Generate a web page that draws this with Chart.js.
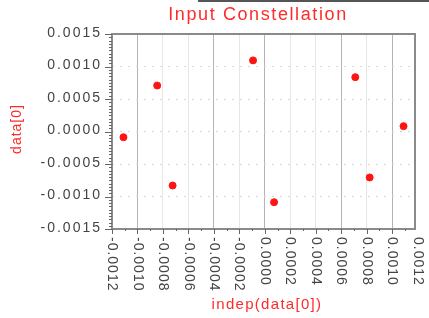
<!DOCTYPE html>
<html>
<head>
<meta charset="utf-8">
<script src="https://cdn.jsdelivr.net/npm/chart.js@4.4.1/dist/chart.umd.min.js"></script>
<style>
  html, body { margin: 0; padding: 0; background: #fff; }
  #wrap { width: 429px; height: 318px; }
</style>
</head>
<body>
<div id="wrap"><canvas id="chart" width="429" height="318"></canvas></div>
<script>
// Constellation points (I = x, Q = y)
const iValues = [-0.00111, -0.000845, -0.000724, -0.000092, 0.000073, 0.000711, 0.000824, 0.00109];
const qValues = [-0.000088, 0.000707, -0.000831, 0.001094, -0.001088, 0.000836, -0.000707, 0.000082];

// Tick labels
const xTicks = [-0.0012, -0.0010, -0.0008, -0.0006, -0.0004, -0.0002, 0.0000, 0.0002, 0.0004, 0.0006, 0.0008, 0.0010, 0.0012];
const yTicks = [0.0015, 0.0010, 0.0005, 0.0000, -0.0005, -0.0010, -0.0015];
// x grid lines that show up darker in the original
const xDarkLines = [-0.0010, -0.0004, 0.0000, 0.0006, 0.0010];

const titleText = 'Input Constellation';
const xTitle = 'indep(data[0])';
const yTitle = 'data[0]';

const RED = '#ff2a2a';
const fmt = v => (Math.abs(v) < 1e-12 ? 0 : v).toFixed(4);
const near = (a, b) => Math.abs(a - b) < 1e-9;

// draws frame, ticks, labels and titles around the plot
const decorations = {
    id: 'decorations',
    afterDraw(chart) {
        const { ctx, chartArea: area, scales } = chart;
        const xs = scales.x, ys = scales.y;
        ctx.save();

        // box line at the top right
        ctx.strokeStyle = '#555';
        ctx.lineWidth = 2;
        ctx.beginPath();
        ctx.moveTo(198, 1);
        ctx.lineTo(429, 1);
        ctx.stroke();

        // plot frame
        ctx.strokeStyle = '#8a8a8a';
        ctx.lineWidth = 2;
        ctx.strokeRect(area.left, area.top, area.right - area.left, area.bottom - area.top);

        // y ticks (minor every 0.00005, major at labels)
        ctx.strokeStyle = '#666';
        ctx.lineWidth = 1;
        for (let k = -30; k <= 30; k++) {
            const v = k * 0.00005;
            const y = Math.round(ys.getPixelForValue(v)) + 0.5;
            const len = k % 10 === 0 ? 7 : 3;
            ctx.beginPath();
            ctx.moveTo(area.left - len, y);
            ctx.lineTo(area.left, y);
            ctx.stroke();
        }
        // x ticks (minor every 0.0001, major at labels)
        for (let k = -12; k <= 12; k++) {
            const v = k * 0.0001;
            const x = Math.round(xs.getPixelForValue(v)) + 0.5;
            if (x > area.right + 1) continue;
            const len = k % 2 === 0 ? 5 : 2;
            ctx.beginPath();
            ctx.moveTo(x, area.bottom);
            ctx.lineTo(x, area.bottom + len);
            ctx.stroke();
        }

        // y tick labels
        ctx.fillStyle = '#444';
        ctx.font = '14px "Liberation Sans", Arial, sans-serif';
        ctx.letterSpacing = '2px';
        ctx.textAlign = 'right';
        ctx.textBaseline = 'middle';
        yTicks.forEach(v => {
            ctx.fillText(fmt(v), 102, ys.getPixelForValue(v) - 1);
        });

        // x tick labels, turned clockwise, reading downwards
        ctx.letterSpacing = '1px';
        ctx.textAlign = 'left';
        xTicks.forEach(v => {
            const x = xs.getPixelForValue(v);
            ctx.save();
            ctx.translate(x, 237);
            ctx.rotate(Math.PI / 2);
            ctx.fillText(fmt(v), 0, 0);
            ctx.restore();
        });

        // titles
        ctx.fillStyle = RED;
        ctx.textAlign = 'center';
        ctx.font = '18px "Liberation Sans", Arial, sans-serif';
        ctx.letterSpacing = '1.6px';
        ctx.fillText(titleText, 258, 15);

        ctx.font = '15px "Liberation Sans", Arial, sans-serif';
        ctx.letterSpacing = '1.3px';
        ctx.fillText(xTitle, 267, 305);

        ctx.save();
        ctx.translate(17, 129);
        ctx.rotate(-Math.PI / 2);
        ctx.font = '14px "Liberation Sans", Arial, sans-serif';
        ctx.letterSpacing = '1px';
        ctx.fillText(yTitle, 0, 0);
        ctx.restore();

        ctx.restore();
    }
};

const points = iValues.map((x, i) => ({ x, y: qValues[i] }));

new Chart(document.getElementById('chart'), {
    type: 'scatter',
    data: {
        datasets: [{
            data: points,
            backgroundColor: '#ff1414',
            borderColor: '#ff1414',
            pointRadius: 3.5,
            pointHoverRadius: 3.5
        }]
    },
    options: {
        responsive: false,
        animation: false,
        devicePixelRatio: 1,
        layout: { padding: { left: 112, right: 14, top: 34, bottom: 89 } },
        plugins: { legend: { display: false }, tooltip: { enabled: false }, title: { display: false } },
        scales: {
            x: {
                type: 'linear',
                min: -0.0012,
                max: 0.00118,
                afterBuildTicks: scale => {
                    scale.ticks = xTicks.filter(v => v > -0.0012 && v < 0.00118).map(v => ({ value: v }));
                },
                grid: {
                    drawTicks: false,
                    lineWidth: 1,
                    color: c => xDarkLines.some(d => near(d, c.tick && c.tick.value)) ? '#b4b4b4' : '#e6e6e6'
                },
                border: { display: false },
                ticks: { display: false }
            },
            y: {
                type: 'linear',
                min: -0.0015,
                max: 0.0015,
                afterBuildTicks: scale => {
                    scale.ticks = yTicks.filter(v => v > -0.0015 && v < 0.0015).map(v => ({ value: v }));
                },
                grid: {
                    drawTicks: false,
                    lineWidth: 1,
                    color: '#d8d8d8'
                },
                border: { display: false, dash: [2, 6] },
                ticks: { display: false }
            }
        }
    },
    plugins: [decorations]
});
</script>
</body>
</html>
